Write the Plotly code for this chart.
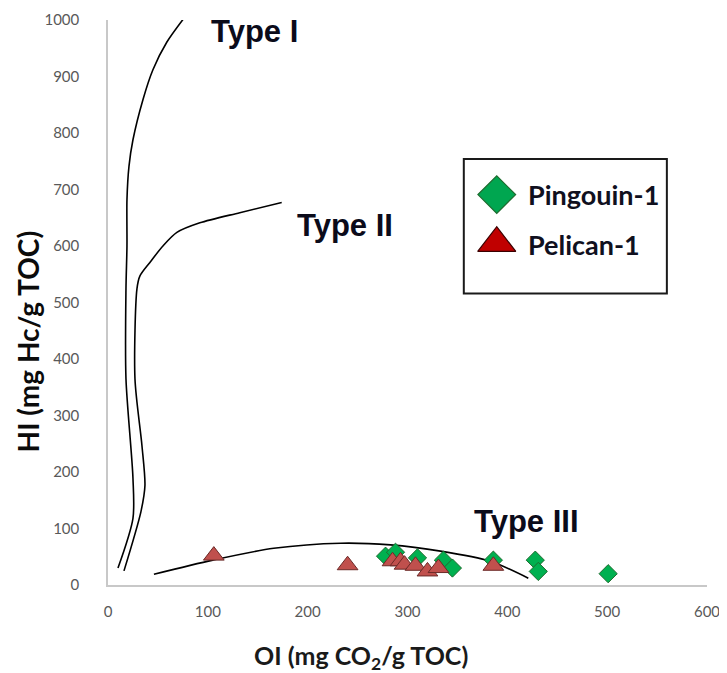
import plotly.graph_objects as go

# ---- data ----
pingouin_oi = [278, 288, 310, 336, 345, 386, 428, 431, 501]
pingouin_hi = [51, 58, 48, 44, 30, 44, 44, 24, 20]

pelican_oi = [106, 240, 285, 293, 297, 308, 320, 331, 386]
pelican_hi = [52, 35, 42, 42, 36, 34, 24, 30, 34]

type1_oi = [10, 25, 25, 18, 18, 19, 19, 21, 25, 35, 45, 59, 79]
type1_hi = [30, 118, 189, 365, 524, 600, 682, 741, 788, 859, 912, 961, 1010]

type2_oi = [16, 33, 37, 34, 27, 29, 32, 42, 55, 69, 92, 132, 174]
type2_hi = [25, 130, 176, 247, 365, 524, 547, 571, 600, 624, 641, 659, 677]

type3_oi = [46, 105, 166, 233, 283, 333, 383, 421]
type3_hi = [19, 44, 65, 74, 71, 60, 42, 12]

type_labels = ["Type I", "Type II", "Type III"]
type_label_oi = [147, 237, 419]
type_label_hi = [979, 637, 113]

x_ticks = [0, 100, 200, 300, 400, 500, 600]
y_ticks = [0, 100, 200, 300, 400, 500, 600, 700, 800, 900, 1000]

series_names = ["Pingouin-1", "Pelican-1"]

# ---- figure ----
fig = go.Figure()

for xs, ys in [(type1_oi, type1_hi), (type2_oi, type2_hi), (type3_oi, type3_hi)]:
    fig.add_trace(go.Scatter(x=xs, y=ys, mode="lines", line=dict(color="black", width=1.6, shape="spline", smoothing=0.8),
                             showlegend=False, hoverinfo="skip", cliponaxis=False))

fig.add_trace(go.Scatter(x=pingouin_oi, y=pingouin_hi, mode="markers", name=series_names[0], showlegend=False,
                         marker=dict(symbol="diamond", size=14, color="#00b050", line=dict(color="#1e6b2e", width=1))))
fig.add_trace(go.Scatter(x=pelican_oi, y=pelican_hi, mode="markers", name=series_names[1], showlegend=False,
                         marker=dict(symbol="triangle-up", size=18, color="#c0504d", line=dict(color="#6b2a28", width=1))))

# manual legend keys on hidden overlay axes (layout positions in paper units)
fig.add_trace(go.Scatter(x=[0.649], y=[0.691], xaxis="x2", yaxis="y2", mode="markers", showlegend=False, hoverinfo="skip",
                         marker=dict(symbol="diamond", size=29, color="#00a650", line=dict(color="#1e6b2e", width=1.2))))
fig.add_trace(go.Scatter(x=[0.649], y=[0.605], xaxis="x2", yaxis="y2", mode="markers", showlegend=False, hoverinfo="skip",
                         marker=dict(symbol="triangle-up", size=33, color="#c00000", line=dict(color="#3a0000", width=1.2))))

for t, x, y in zip(type_labels, type_label_oi, type_label_hi):
    fig.add_annotation(x=x, y=y, text=t, showarrow=False,
                       font=dict(family="Liberation Sans", size=31, color="#0b0b1a", weight="bold"))

for name, y in zip(series_names, [0.691, 0.602]):
    fig.add_annotation(xref="paper", yref="paper", x=0.697, y=y, xanchor="left", yanchor="middle", text=name,
                       showarrow=False, font=dict(family="Lato", size=27, color="#10101e", weight="bold"))

fig.add_shape(type="rect", xref="paper", yref="paper", x0=0.594, x1=0.933, y0=0.516, y1=0.754,
              line=dict(color="#1a1a1a", width=2), fillcolor="rgba(0,0,0,0)")

# axis titles
fig.add_annotation(xref="paper", yref="paper", x=0.422, y=-0.127, xanchor="center", yanchor="middle",
                   text="OI (mg CO<sub>2</sub>/g TOC)", showarrow=False,
                   font=dict(size=25, color="#1a1a1a", family="Lato", weight="bold"))
fig.add_annotation(xref="paper", yref="paper", x=-0.133, y=0.43, xanchor="center", yanchor="middle",
                   text="HI (mg Hc/g TOC)", textangle=-90, showarrow=False,
                   font=dict(size=28, color="#0b0b0b", family="Lato", weight="bold"))

fig.update_layout(
    width=727, height=673,
    margin=dict(l=100, r=28, t=12, b=96),
    plot_bgcolor="white", paper_bgcolor="white",
    font=dict(family="Lato", color="#595959"),
    xaxis=dict(range=[0, 600], tickvals=x_ticks, showgrid=False, zeroline=False, showline=True, automargin=False,
               linecolor="#c8c8c8", linewidth=1.5, ticks="", tickfont=dict(size=15, color="#595959"),
               ticklabelstandoff=12),
    yaxis=dict(range=[0, 1000], tickvals=y_ticks, showgrid=False, zeroline=False, showline=True, automargin=False,
               linecolor="#c8c8c8", linewidth=1.5, ticks="", tickfont=dict(size=15, color="#595959"),
               ticklabelstandoff=24),
    xaxis2=dict(range=[0, 1], overlaying="x", visible=False, fixedrange=True),
    yaxis2=dict(range=[0, 1], overlaying="y", visible=False, fixedrange=True),
    showlegend=False,
)

fig.write_html("out.html")
